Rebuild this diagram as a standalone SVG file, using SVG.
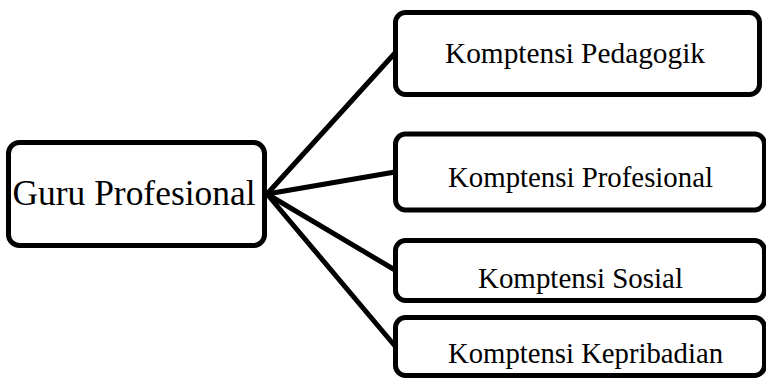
<svg xmlns="http://www.w3.org/2000/svg" width="766" height="380" viewBox="0 0 766 380">
  <style>
    .box { fill: #ffffff; stroke: #000000; stroke-width: 5; }
    .link { stroke: #000000; stroke-width: 5; stroke-linecap: round; fill: none; }
    .lbl { font-family: "Liberation Serif", "DejaVu Serif", serif; fill: #000000; text-anchor: middle; }
    .main { font-size: 35px; }
    .sub { font-size: 29px; }
  </style>
  <rect width="766" height="380" fill="#ffffff"/>

  <!-- connectors fanning out from the main node -->
  <g id="connectors">
    <line class="link" x1="267" y1="194" x2="395" y2="53"/>
    <line class="link" x1="267" y1="194" x2="395" y2="172"/>
    <line class="link" x1="267" y1="194" x2="395" y2="270"/>
    <line class="link" x1="267" y1="194" x2="395" y2="346"/>
  </g>

  <g id="guru-profesional">
    <rect class="box" x="8.5" y="142.5" width="256" height="103" rx="11"/>
    <text class="lbl main" x="134" y="205" textLength="243" lengthAdjust="spacingAndGlyphs">Guru Profesional</text>
  </g>

  <g id="kompetensi-pedagogik">
    <rect class="box" x="395.5" y="12.5" width="364" height="82" rx="10"/>
    <text class="lbl sub" x="575" y="63" textLength="260" lengthAdjust="spacingAndGlyphs">Komptensi Pedagogik</text>
  </g>

  <g id="kompetensi-profesional">
    <rect class="box" x="395.5" y="134" width="369" height="76" rx="10"/>
    <text class="lbl sub" x="580.5" y="187" textLength="265" lengthAdjust="spacingAndGlyphs">Komptensi Profesional</text>
  </g>

  <g id="kompetensi-sosial">
    <rect class="box" x="395.5" y="240.5" width="369" height="60" rx="10"/>
    <text class="lbl sub" x="580.5" y="288" textLength="205" lengthAdjust="spacingAndGlyphs">Komptensi Sosial</text>
  </g>

  <g id="kompetensi-kepribadian">
    <rect class="box" x="395.5" y="317.5" width="369" height="58" rx="10"/>
    <text class="lbl sub" x="585.5" y="363" textLength="275" lengthAdjust="spacingAndGlyphs">Komptensi Kepribadian</text>
  </g>
</svg>
